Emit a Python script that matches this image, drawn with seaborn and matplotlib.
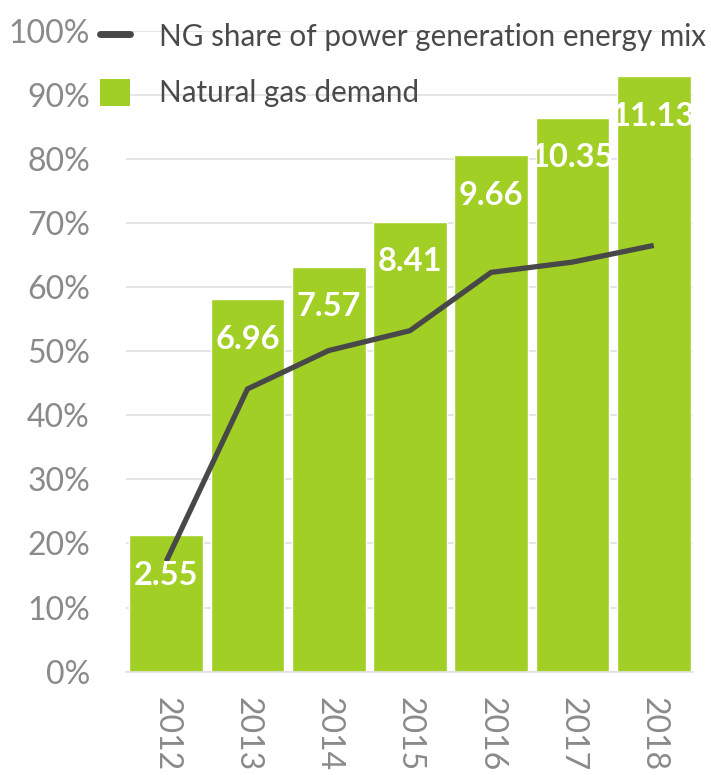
import numpy as np
import seaborn as sns
from matplotlib import pyplot as plt
from matplotlib.lines import Line2D
from matplotlib.patches import Patch

# data
years = ['2012', '2013', '2014', '2015', '2016', '2017', '2018']
demand_bar_pct = [21.3, 58.1, 63.2, 70.2, 80.6, 86.4, 92.9]   # bar heights on the % axis
demand_labels = ['2.55', '6.96', '7.57', '8.41', '9.66', '10.35', '11.13']
ng_share_pct = [17.2, 44.1, 50.1, 53.2, 62.3, 63.9, 66.5]
y_ticks = [0, 10, 20, 30, 40, 50, 60, 70, 80, 90, 100]

green = '#a2cf26'
dark = '#484848'
grey = '#8a8a8a'

sns.set_style('white')
plt.rcParams['font.family'] = ['Lato', 'DejaVu Sans']

fig = plt.figure(figsize=(7.11, 7.75), dpi=100)
ax = fig.add_axes([0.1772, 0.1333, 0.7971, 0.8271])

sns.barplot(x=years, y=demand_bar_pct, color=green, width=0.906, saturation=1, ax=ax, zorder=2)
ax.plot(np.arange(len(years)), ng_share_pct, color=dark, linewidth=3.8, zorder=3,
        solid_capstyle='butt', solid_joinstyle='miter')

# value labels inside top of bars
for i, (h, lab) in enumerate(zip(demand_bar_pct, demand_labels)):
    ax.annotate(lab, (i, h), xytext=(0, -40), textcoords='offset pixels',
                ha='center', va='center', color='white', fontsize=23.5,
                fontweight='bold', zorder=4)

ax.set_ylim(0, 100)
ax.set_xlim(-0.495, 6.48)
ax.set_yticks(y_ticks)
ax.set_yticklabels(["{}%".format(t) for t in y_ticks])
ax.yaxis.grid(True, color='#e0e0e0', linewidth=1.2, zorder=0)
ax.set_axisbelow(True)
for side in ['top', 'right', 'left']:
    ax.spines[side].set_visible(False)
ax.spines['bottom'].set_color('#e0e0e0')
ax.spines['bottom'].set_linewidth(1.2)
ax.tick_params(axis='y', length=0, pad=26, labelsize=23, labelcolor=grey)
ax.tick_params(axis='x', length=0, pad=18, labelsize=23, labelcolor=grey, labelrotation=-90)
for t in ax.get_xticklabels():
    t.set_va('top')
ax.set_xlabel('')
ax.set_ylabel('')

handles = [Line2D([0], [0], color=dark, linewidth=5, solid_capstyle='round'),
           Patch(facecolor=green, edgecolor='none')]
leg = ax.legend(handles, ['NG share of power generation energy mix', 'Natural gas demand'],
                loc='upper left', bbox_to_anchor=(0.1406, 0.971), bbox_transform=fig.transFigure,
                borderpad=0, borderaxespad=0, frameon=False,
                fontsize=21.3, labelcolor='#4a4a4a',
                handlelength=1.03, handleheight=1.03,
                handletextpad=0.95, labelspacing=0.93)

fig.savefig('out.png', dpi=100)
